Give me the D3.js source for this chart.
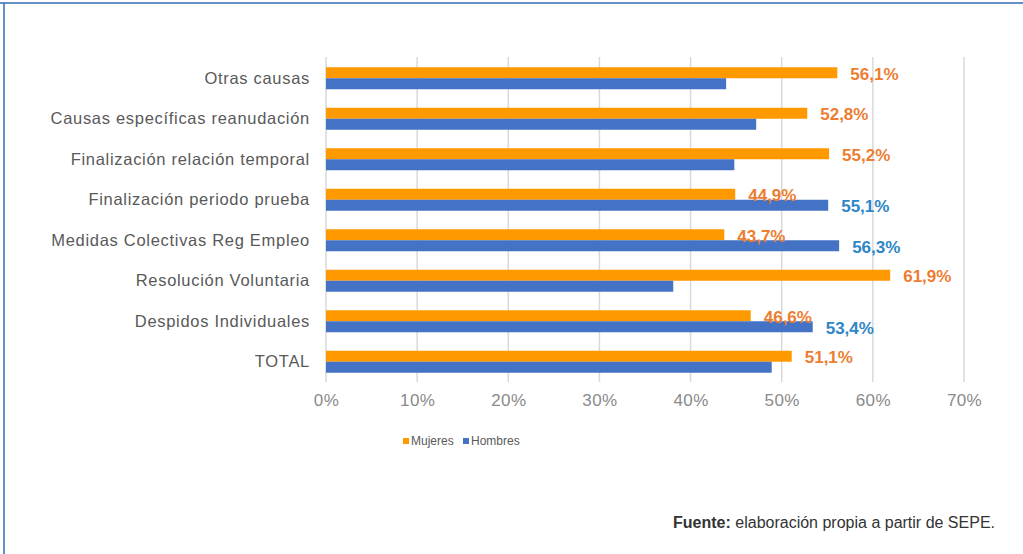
<!DOCTYPE html>
<html>
<head>
<meta charset="utf-8">
<script src="https://cdn.jsdelivr.net/npm/d3@7"></script>
<style>
  html, body { margin: 0; padding: 0; background: #fff; }
  svg { display: block; }
</style>
</head>
<body>
<script>
const categories = [
  "Otras causas",
  "Causas específicas reanudación",
  "Finalización relación temporal",
  "Finalización periodo prueba",
  "Medidas Colectivas Reg Empleo",
  "Resolución Voluntaria",
  "Despidos Individuales",
  "TOTAL"
];
const mujeres = [56.1, 52.8, 55.2, 44.9, 43.7, 61.9, 46.6, 51.1];
const hombres = [43.9, 47.2, 44.8, 55.1, 56.3, 38.1, 53.4, 48.9];
const seriesNames = ["Mujeres", "Hombres"];
const xTicks = [0, 10, 20, 30, 40, 50, 60, 70];
const sourceBold = "Fuente:";
const sourceText = " elaboración propia a partir de SEPE.";

const W = 1023, H = 554;
const colors = { Mujeres: "#FF9900", Hombres: "#4472C4" };
const labelColors = { Mujeres: "#ED7D31", Hombres: "#2E86C8" };
const font = "Liberation Sans, Arial, Helvetica, sans-serif";

const svg = d3.select("body").append("svg").attr("width", W).attr("height", H);

// frame (top + left blue lines)
svg.append("line").attr("x1", 0).attr("x2", W).attr("y1", 3).attr("y2", 3)
  .attr("stroke", "#2E6DB4").attr("stroke-width", 1.5);
svg.append("line").attr("x1", 4).attr("x2", 4).attr("y1", 3).attr("y2", H)
  .attr("stroke", "#2E6DB4").attr("stroke-width", 1.5);

const x = d3.scaleLinear().domain([0, 70]).range([326, 964]);
const y = d3.scaleBand().domain(categories).range([58, 382]);
const inner = d3.scaleBand().domain(seriesNames).range([0, 22]);
const barOffset = (y.bandwidth() - 22) / 2;

// gridlines
svg.append("g").selectAll("line").data(xTicks).join("line")
  .attr("x1", d => x(d)).attr("x2", d => x(d))
  .attr("y1", 57).attr("y2", 382)
  .attr("stroke", "#D9D9D9").attr("stroke-width", 1.5);

// x axis tick labels
const xAxis = d3.axisBottom(x).tickValues(xTicks).tickFormat(d => d + "%").tickSize(0).tickPadding(0);
const gx = svg.append("g").attr("transform", "translate(0,394)").call(xAxis);
gx.select(".domain").remove();
gx.selectAll("text").attr("font-family", font).attr("font-size", 17).attr("fill", "#8A8A8A")
  .attr("letter-spacing", 0.4).attr("dy", "0.71em");

// category labels
const yAxis = d3.axisLeft(y).tickSize(0).tickPadding(0);
const gy = svg.append("g").attr("transform", "translate(310,0)").call(yAxis);
gy.select(".domain").remove();
gy.selectAll("text").attr("font-family", font).attr("font-size", 16.5).attr("fill", "#595959")
  .attr("letter-spacing", 0.7);

const data = categories.map((c, i) => ({ cat: c, Mujeres: mujeres[i], Hombres: hombres[i] }));

seriesNames.forEach(s => {
  svg.append("g").selectAll("rect").data(data).join("rect")
    .attr("x", x(0))
    .attr("y", d => y(d.cat) + barOffset + inner(s))
    .attr("width", d => x(d[s]) - x(0))
    .attr("height", inner.bandwidth())
    .attr("fill", colors[s]);
});

// labels: Mujeres always, Hombres only when > 50
const fmt = v => v.toFixed(1).replace(".", ",") + "%";
seriesNames.forEach(s => {
  svg.append("g").selectAll("text").data(data.filter(d => s === "Mujeres" || d[s] > 50)).join("text")
    .attr("x", d => x(d[s]) + 13)
    .attr("y", d => y(d.cat) + barOffset + inner(s) + inner.bandwidth() / 2 + 1)
    .attr("dy", "0.35em")
    .attr("font-family", font).attr("font-size", 17).attr("font-weight", "bold")
    .attr("fill", labelColors[s])
    .text(d => fmt(d[s]));
});

// legend
const legend = svg.append("g").attr("transform", "translate(403,441)");
const lx = [0, 60];
seriesNames.forEach((s, i) => {
  const g = legend.append("g").attr("transform", `translate(${lx[i]},0)`);
  g.append("rect").attr("x", 0).attr("y", -3).attr("width", 6).attr("height", 6).attr("fill", colors[s]);
  g.append("text").attr("x", 8).attr("y", 0).attr("dy", "0.35em")
    .attr("font-family", font).attr("font-size", 12).attr("fill", "#595959").text(s);
});

// source
const src = svg.append("text").attr("x", 995).attr("y", 522).attr("dy", "0.35em")
  .attr("text-anchor", "end").attr("font-family", font).attr("font-size", 16).attr("fill", "#333");
src.append("tspan").attr("font-weight", "bold").text(sourceBold);
src.append("tspan").text(sourceText);
</script>
</body>
</html>
